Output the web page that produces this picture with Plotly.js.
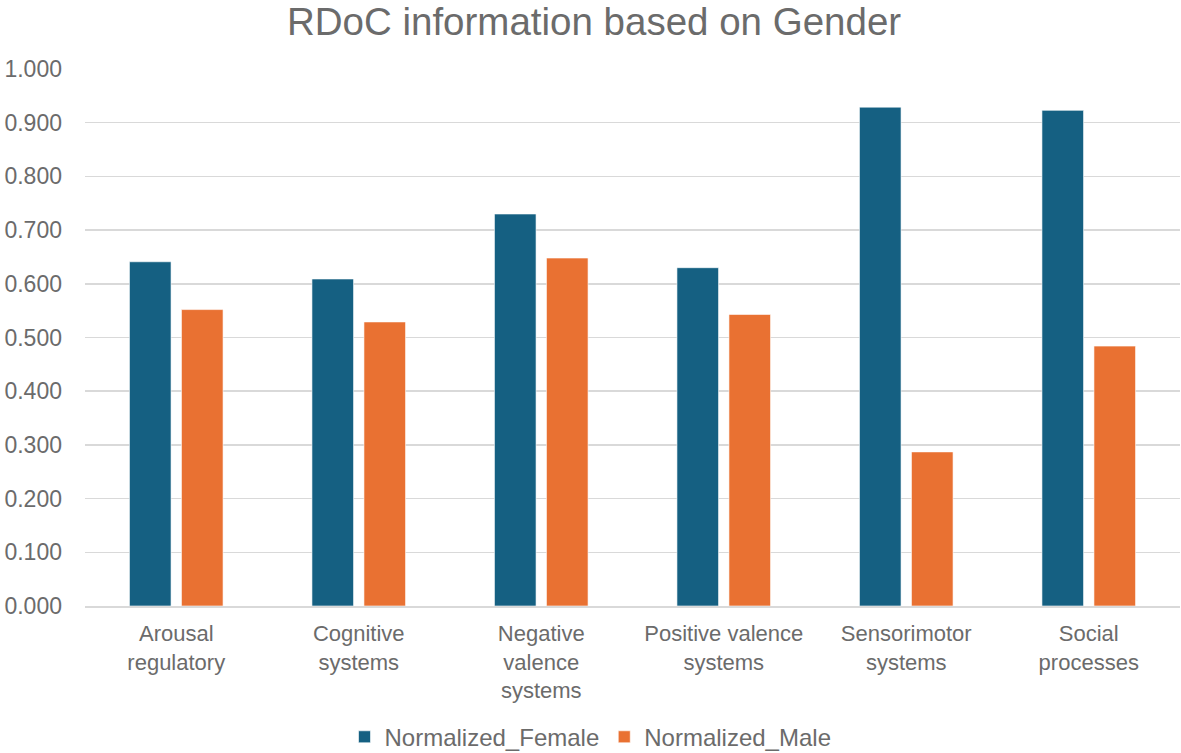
<!DOCTYPE html>
<html>
<head>
<meta charset="utf-8">
<script src="https://cdn.plot.ly/plotly-3.0.1.min.js"></script>
<style>html,body{margin:0;padding:0;background:#fff;}#chart{width:1181px;height:753px;}</style>
</head>
<body>
<div id="chart"></div>
<script>
const categories = ["Arousal<br>regulatory", "Cognitive<br>systems", "Negative<br>valence<br>systems", "Positive valence<br>systems", "Sensorimotor<br>systems", "Social<br>processes"];
const femaleValues = [0.641, 0.609, 0.730, 0.630, 0.929, 0.923];
const maleValues = [0.552, 0.529, 0.648, 0.543, 0.287, 0.484];
const yTickValues = [0, 0.1, 0.2, 0.3, 0.4, 0.5, 0.6, 0.7, 0.8, 0.9, 1.0];

const textColor = "#6b6b6b";
const fontFamily = "Liberation Sans, Arial, sans-serif";

const traces = [
  {type: "bar", name: "Normalized_Female", x: categories, y: femaleValues,
   marker: {color: "#156082", line: {color: "#ffffff", width: 0.6}}},
  {type: "bar", name: "Normalized_Male", x: categories, y: maleValues,
   marker: {color: "#E97132", line: {color: "#ffffff", width: 0.6}}}
];

const layout = {
  width: 1181, height: 753,
  paper_bgcolor: "#ffffff", plot_bgcolor: "#ffffff",
  margin: {l: 85, r: 1, t: 69, b: 147},
  font: {family: fontFamily, color: textColor, size: 22},
  title: {text: "RDoC information based on Gender", x: 0.503, xref: "container", yref: "container",
          y: 0.972, yanchor: "middle",
          font: {family: fontFamily, size: 38.5, color: textColor}},
  barmode: "group", bargap: 0.43, bargroupgap: 0.2,
  xaxis: {showgrid: false, showline: true, linecolor: "#d9d9d9", linewidth: 1.5, automargin: false,
          tickfont: {size: 22, color: textColor}, ticks: "", ticklabelstandoff: 7},
  yaxis: {range: [0, 1], tickvals: yTickValues, tickformat: ".3f", showgrid: true, automargin: false,
          gridcolor: "#d9d9d9", gridwidth: 1.5, zeroline: false, showline: false,
          tickfont: {size: 23, color: textColor}, ticks: "", ticklabelstandoff: 22},
  showlegend: true,
  legend: {orientation: "h", x: 0.5, xanchor: "center", xref: "container", yref: "container",
           y: 0.021, yanchor: "middle",
           font: {size: 24, color: textColor}, itemwidth: 30, traceorder: "normal"}
};

Plotly.newPlot("chart", traces, layout, {displayModeBar: false, staticPlot: true});
</script>
</body>
</html>
